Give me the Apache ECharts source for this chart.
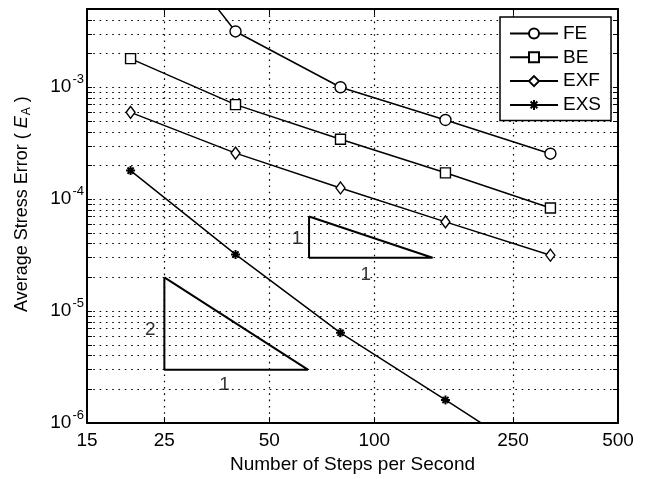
<!DOCTYPE html>
<html>
<head>
<meta charset="utf-8">
<script src="https://cdn.jsdelivr.net/npm/echarts@6/dist/echarts.min.js"></script>
<style>
  html, body { margin: 0; padding: 0; background: #fff; }
  #chart { width: 646px; height: 479px; }
</style>
</head>
<body>
<div id="chart"></div>
<script>
// Steps per second and the average stress error of each integration scheme
const steps = [20, 40, 80, 160, 320];
const feError = [0.05, 3.15e-3, 1.0e-3, 5.1e-4, 2.55e-4];
const beError = [1.8e-3, 7.0e-4, 3.43e-4, 1.72e-4, 8.35e-5];
const exfError = [5.97e-4, 2.58e-4, 1.26e-4, 6.27e-5, 3.16e-5];
const exsError = [1.8e-4, 3.21e-5, 6.4e-6, 1.61e-6, 4.0e-7];

// Axis ticks
const xTickLabels = [15, 25, 50, 100, 250, 500];
const xGridTicks = [25, 50, 100, 250];
const yDecades = [1e-6, 1e-5, 1e-4, 1e-3];
const yMin = 1e-6, yMax = 5e-3;

// Slope reference triangles (closed outlines) and their labels
const slopeOneTriangle = [[65, 7e-5], [65, 3e-5], [147, 3e-5], [65, 7e-5]];
const slopeTwoTriangle = [[25, 2e-5], [25, 3e-6], [64.5, 3e-6], [25, 2e-5]];
const slopeLabels = [[22.8, 6.83e-6, '2'], [37.2, 2.22e-6, '1'], [60.0, 4.45e-5, '1'], [94.6, 2.1e-5, '1']];

// every 1..9 x 10^n position inside the y range
const yGridTicks = [];
yDecades.forEach(d => {
  for (let m = 1; m <= 9; m++) {
    const v = +(m * d).toPrecision(6);
    if (v <= yMax) yGridTicks.push(v);
  }
});
yGridTicks.push(yMax);

const font = '"Liberation Sans", Arial, Helvetica, sans-serif';
const dotted = { color: '#000', width: 1.2, type: [1.6, 4.7] };
const frame = { show: true, onZero: false, lineStyle: { color: '#000', width: 2 } };
const pairs = ys => steps.map((s, i) => [s, ys[i]]);
const asterisk = 'path://M5 0L5 10M0 5L10 5M1.6 1.6L8.4 8.4M8.4 1.6L1.6 8.4';

function lineSeries(name, ys, symbol, size) {
  return {
    name, type: 'line', data: pairs(ys), clip: true,
    symbol, symbolSize: size,
    lineStyle: { color: '#000', width: 1.5 },
    itemStyle: { color: '#fff', borderColor: '#000', borderWidth: 1.4 },
    z: 3
  };
}

const chart = echarts.init(document.getElementById('chart'), null, { renderer: 'canvas' });
chart.setOption({
  animation: false,
  backgroundColor: '#fff',
  textStyle: { fontFamily: font },
  grid: { left: 87, right: 28, top: 9, bottom: 53 },
  legend: {
    data: ['FE', 'BE', 'EXF', 'EXS'],
    orient: 'vertical',
    left: 500, top: 17,
    padding: [7, 10, 6, 9],
    itemWidth: 48, itemHeight: 12.5, itemGap: 4.8,
    backgroundColor: '#fff',
    borderColor: '#000', borderWidth: 1.5,
    selectedMode: false,
    textStyle: { fontSize: 19, color: '#000', fontFamily: font, lineHeight: 19 },
    z: 10
  },
  xAxis: [
    {
      type: 'log', logBase: 10, min: 15, max: 500, position: 'bottom',
      name: 'Number of Steps per Second', nameLocation: 'middle', nameGap: 27,
      nameTextStyle: { fontSize: 19, color: '#000', fontFamily: font },
      axisLine: frame,
      axisTick: { show: true, inside: true, length: 6, customValues: xGridTicks, lineStyle: { color: '#000', width: 1 } },
      axisLabel: { customValues: xTickLabels, margin: 8, fontSize: 19, color: '#000', fontFamily: font,
        formatter: v => String(Math.round(v)) },
      splitLine: { show: true, lineStyle: dotted },
      minorTick: { show: false }, minorSplitLine: { show: false }
    },
    {
      type: 'log', logBase: 10, min: 15, max: 500, position: 'top',
      axisLine: frame,
      axisTick: { show: true, inside: true, length: 6, customValues: xGridTicks, lineStyle: { color: '#000', width: 1 } },
      axisLabel: { show: false },
      splitLine: { show: false }
    }
  ],
  yAxis: [
    {
      type: 'log', logBase: 10, min: yMin, max: yMax, position: 'left',
      name: '{n|Average Stress Error ( }{i|E}{s|A}{n| )}',
      nameLocation: 'middle', nameGap: 54,
      nameTextStyle: {
        color: '#000', fontFamily: font, fontSize: 18, padding: [0, 0, 0, 24],
        rich: {
          n: { fontSize: 18, fontFamily: font, color: '#000' },
          i: { fontSize: 18, fontFamily: font, color: '#000', fontStyle: 'italic' },
          s: { fontSize: 12, fontFamily: font, color: '#000', padding: [10, 0, 0, 1] }
        }
      },
      axisLine: frame,
      axisTick: { show: true, inside: true, length: 5, customValues: yGridTicks, lineStyle: { color: '#000', width: 1 } },
      axisLabel: {
        customValues: yDecades, margin: 3, color: '#000', fontFamily: font,
        formatter: v => '{b|10}{e|' + Math.round(Math.log10(v)) + '}',
        rich: {
          b: { fontSize: 19, fontFamily: font, color: '#000' },
          e: { fontSize: 13, fontFamily: font, color: '#000', padding: [0, 0, 16, 1] }
        }
      },
      splitLine: { show: true, lineStyle: dotted },
      minorTick: { show: false }, minorSplitLine: { show: false }
    },
    {
      type: 'log', logBase: 10, min: yMin, max: yMax, position: 'right',
      axisLine: frame,
      axisTick: { show: true, inside: true, length: 5, customValues: yGridTicks, lineStyle: { color: '#000', width: 1 } },
      axisLabel: { show: false },
      splitLine: { show: false }
    }
  ],
  series: [
    lineSeries('FE', feError, 'circle', 11),
    lineSeries('BE', beError, 'rect', 10),
    lineSeries('EXF', exfError, 'diamond', [9, 12]),
    Object.assign(lineSeries('EXS', exsError, asterisk, 9), {
      itemStyle: { color: '#000', borderColor: '#000', borderWidth: 2 }
    }),
    {
      name: 'slope1', type: 'line', data: slopeOneTriangle, symbol: 'none',
      lineStyle: { color: '#000', width: 2 }, z: 2
    },
    {
      name: 'slope2', type: 'line', data: slopeTwoTriangle, symbol: 'none',
      lineStyle: { color: '#000', width: 2 }, z: 2
    },
    {
      name: 'slopeText', type: 'scatter', data: slopeLabels, symbolSize: 1,
      itemStyle: { color: 'transparent' },
      label: { show: true, position: 'inside', formatter: p => p.data[2], fontSize: 19, color: '#000', fontFamily: font },
      z: 4
    }
  ]
});
</script>
</body>
</html>
